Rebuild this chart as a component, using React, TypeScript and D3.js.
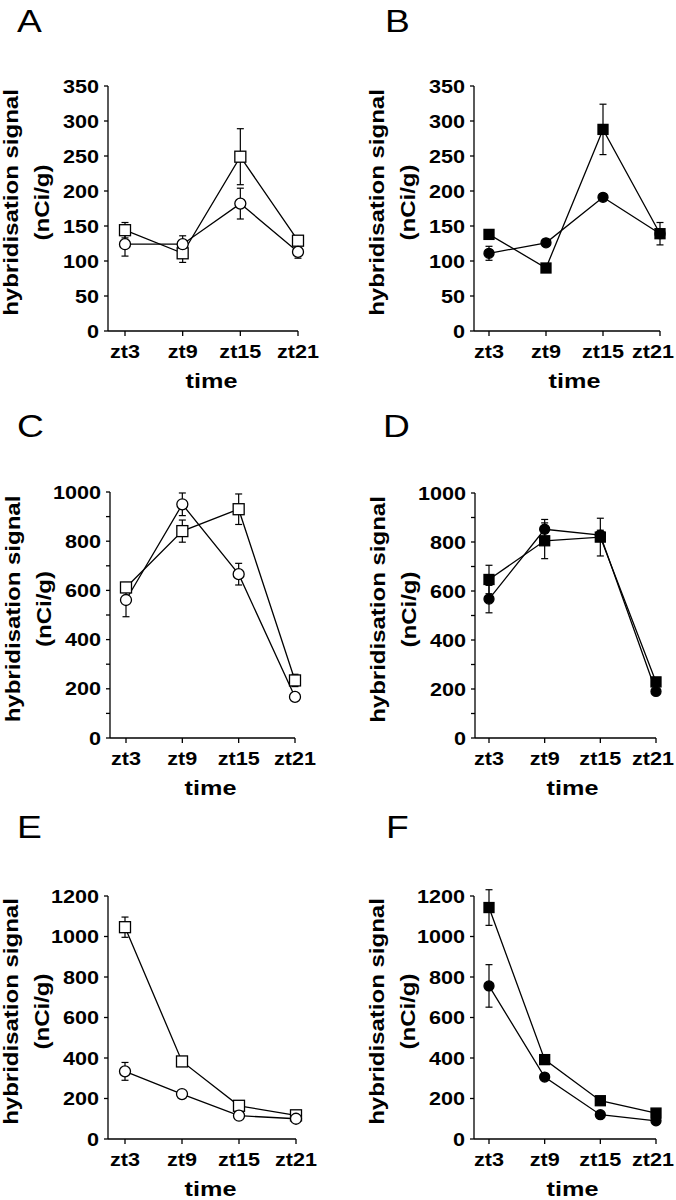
import React from "react";
import { scaleLinear, scalePoint, range, line } from "d3";

// categories and series
const categories = ["zt3", "zt9", "zt15", "zt21"];

const squaresA = [144, 111, 249, 129];
const squaresASem = [11, 13, 40, 5];
const circlesA = [124, 124, 182, 113];
const circlesASem = [17, 12, 22, 9];

const squaresB = [138, 90, 288, 139];
const squaresBSem = [5, 5, 36, 16];
const circlesB = [111, 126, 191, 139];
const circlesBSem = [10, 5, 5, 5];

const squaresC = [612, 841, 930, 234];
const squaresCSem = [20, 45, 62, 25];
const circlesC = [561, 950, 666, 167];
const circlesCSem = [68, 46, 44, 10];

const squaresD = [647, 805, 820, 229];
const squaresDSem = [58, 73, 77, 15];
const circlesD = [567, 852, 828, 190];
const circlesDSem = [56, 40, 20, 10];

const squaresE = [1046, 383, 164, 117];
const squaresESem = [50, 15, 10, 8];
const circlesE = [334, 222, 115, 100];
const circlesESem = [44, 10, 8, 6];

const squaresF = [1143, 392, 189, 128];
const squaresFSem = [88, 15, 10, 8];
const circlesF = [756, 306, 120, 90];
const circlesFSem = [105, 12, 8, 6];

const ticksSmall = [0, 50, 100, 150, 200, 250, 300, 350];
const ticksMid = [0, 200, 400, 600, 800, 1000];
const ticksBig = [0, 200, 400, 600, 800, 1000, 1200];

const FONT = "'Liberation Sans', Arial, Helvetica, sans-serif";
const WIDTH = 676;

const panels = [
  { letter: "A", sq: squaresA, sqSem: squaresASem, ci: circlesA, ciSem: circlesASem, filled: false, ticks: ticksSmall, minor: 0,
    axisX: 108, x0: 125, x1: 298, y0: 331, yTop: 86, letterX: 17, letterY: 32 },
  { letter: "B", sq: squaresB, sqSem: squaresBSem, ci: circlesB, ciSem: circlesBSem, filled: true, ticks: ticksSmall, minor: 0,
    axisX: 474, x0: 489, x1: 660, y0: 331, yTop: 86, letterX: 385, letterY: 32 },
  { letter: "C", sq: squaresC, sqSem: squaresCSem, ci: circlesC, ciSem: circlesCSem, filled: false, ticks: ticksMid, minor: 100,
    axisX: 110, x0: 126, x1: 295, y0: 738, yTop: 492, letterX: 17, letterY: 437 },
  { letter: "D", sq: squaresD, sqSem: squaresDSem, ci: circlesD, ciSem: circlesDSem, filled: true, ticks: ticksMid, minor: 100,
    axisX: 475, x0: 489, x1: 656, y0: 738, yTop: 493, letterX: 383, letterY: 437 },
  { letter: "E", sq: squaresE, sqSem: squaresESem, ci: circlesE, ciSem: circlesESem, filled: false, ticks: ticksBig, minor: 0,
    axisX: 108, x0: 125, x1: 296, y0: 1139, yTop: 896, letterX: 17, letterY: 838 },
  { letter: "F", sq: squaresF, sqSem: squaresFSem, ci: circlesF, ciSem: circlesFSem, filled: true, ticks: ticksBig, minor: 0,
    axisX: 474, x0: 489, x1: 656, y0: 1139, yTop: 896, letterX: 386, letterY: 838 },
];

function Txt({ x, y, children, size, weight = "bold", anchor = "start", rotate = 0, dy = 0 }) {
  return (
    <text
      transform={`translate(${x},${y}) rotate(${rotate}) scale(1.2,1)`}
      dy={dy}
      fontFamily={FONT}
      fontSize={size}
      fontWeight={weight}
      textAnchor={anchor}
      fill="#000"
    >
      {children}
    </text>
  );
}

function Panel({ p }) {
  const yMax = p.ticks[p.ticks.length - 1];
  const x = scalePoint().domain(categories).range([p.x0, p.x1]);
  const y = scaleLinear().domain([0, yMax]).range([p.y0, p.yTop]);
  const path = line<number>().x((_, i) => x(categories[i])).y((d) => y(d));
  const minorTicks = p.minor ? range(p.minor, yMax, p.minor * 2) : [];
  const fill = p.filled ? "#000" : "#fff";
  const sqSize = p.filled ? 10 : 11;
  const r = p.filled ? 5 : 5.5;
  const midY = (p.y0 + p.yTop) / 2 - 6;

  const errBars = (vals, sems, key) =>
    vals.map((v, i) => {
      const cx = x(categories[i]);
      const hi = y(v + sems[i]);
      const lo = y(v - sems[i]);
      return (
        <g key={key + i} stroke="#000" strokeWidth={1.2}>
          <line x1={cx} x2={cx} y1={hi} y2={lo} />
          <line x1={cx - 3.5} x2={cx + 3.5} y1={hi} y2={hi} />
          <line x1={cx - 3.5} x2={cx + 3.5} y1={lo} y2={lo} />
        </g>
      );
    });

  const squares = p.sq.map((v, i) => (
    <rect key={"s" + i} x={x(categories[i]) - sqSize / 2} y={y(v) - sqSize / 2} width={sqSize} height={sqSize}
      fill={fill} stroke="#000" strokeWidth={1.3} />
  ));
  const circles = p.ci.map((v, i) => (
    <circle key={"c" + i} cx={x(categories[i])} cy={y(v)} r={r} fill={fill} stroke="#000" strokeWidth={1.3} />
  ));

  return (
    <g>
      <Txt x={p.letterX} y={p.letterY} size={31} weight="normal">{p.letter}</Txt>

      {/* axes */}
      <g stroke="#000" strokeWidth={1.3} fill="none">
        <line x1={p.axisX} x2={p.axisX} y1={p.y0} y2={p.yTop} />
        <line x1={p.axisX} x2={p.x1} y1={p.y0} y2={p.y0} />
        {p.ticks.map((t) => (
          <line key={"t" + t} x1={p.axisX - 4} x2={p.axisX} y1={y(t)} y2={y(t)} />
        ))}
        {minorTicks.map((t) => (
          <line key={"m" + t} x1={p.axisX - 4} x2={p.axisX} y1={y(t)} y2={y(t)} />
        ))}
        {categories.map((c) => (
          <line key={c} x1={x(c)} x2={x(c)} y1={p.y0} y2={p.y0 + 5} />
        ))}
      </g>

      {p.ticks.map((t) => (
        <Txt key={"l" + t} x={p.axisX - 9} y={y(t)} dy={6.5} size={18} anchor="end">{t}</Txt>
      ))}
      {categories.map((c) => (
        // keep the last label inside the page edge
        <Txt key={"x" + c} x={Math.min(x(c), WIDTH - 23)} y={p.y0 + 27} size={18} anchor="middle">{c}</Txt>
      ))}
      <Txt x={(p.x0 + p.x1) / 2} y={p.y0 + 57} size={21} anchor="middle">time</Txt>
      <Txt x={p.axisX - 90} y={midY} size={20} anchor="middle" rotate={-90}>hybridisation signal</Txt>
      <Txt x={p.axisX - 59} y={midY} size={20} anchor="middle" rotate={-90}>(nCi/g)</Txt>

      {/* series */}
      <path d={path(p.sq)} fill="none" stroke="#000" strokeWidth={1.3} />
      <path d={path(p.ci)} fill="none" stroke="#000" strokeWidth={1.3} />
      {errBars(p.sq, p.sqSem, "es")}
      {errBars(p.ci, p.ciSem, "ec")}
      {p.filled ? circles : squares}
      {p.filled ? squares : circles}
    </g>
  );
}

export default function App() {
  return (
    <svg
      width={WIDTH}
      height={1200}
      viewBox="0 0 676 1200"
      style={{ position: "absolute", left: 0, top: 0, background: "#fff", display: "block" }}
    >
      <rect width={WIDTH} height={1200} fill="#fff" />
      {panels.map((p) => (
        <Panel key={p.letter} p={p} />
      ))}
    </svg>
  );
}
